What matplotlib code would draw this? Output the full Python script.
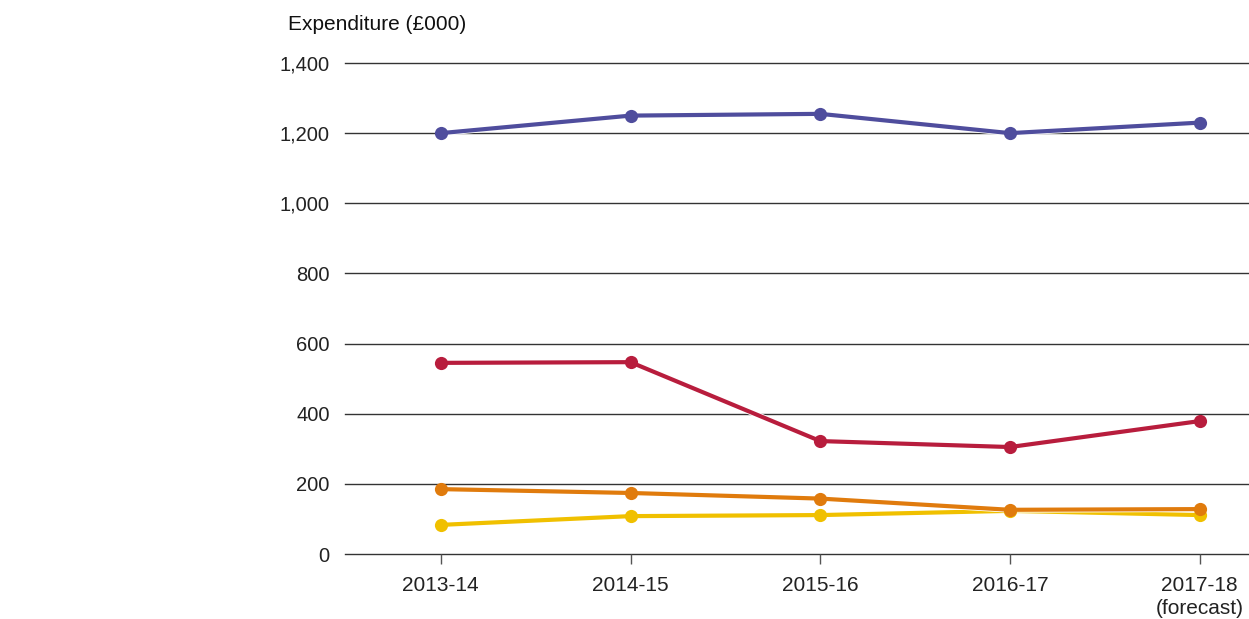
import matplotlib
matplotlib.use("Agg")
import matplotlib.pyplot as plt
import matplotlib.patheffects as pe

plt.rcParams['font.family'] = ['Liberation Sans', 'DejaVu Sans']

categories = ["2013-14", "2014-15", "2015-16", "2016-17", "2017-18\n(forecast)"]
purple = [1200, 1250, 1255, 1200, 1230]
red = [545, 547, 322, 305, 379]
yellow = [83, 108, 111, 123, 111]
orange = [185, 174, 158, 126, 128]
yticks = [0, 200, 400, 600, 800, 1000, 1200, 1400]

fig = plt.figure(figsize=(12.49, 6.19), dpi=100)
ax = fig.add_axes([345/1249, 1-554/619, 1-345/1249, (554-63)/619])

x = list(range(len(categories)))
outline = [pe.Stroke(linewidth=4.2, foreground='white'), pe.Normal()]
for vals, col in [(purple, '#4f4d9d'), (red, '#b81d3d'), (yellow, '#f0c000'), (orange, '#e07b0d')]:
    ax.plot(x, vals, color=col, lw=3, zorder=3, path_effects=outline,
            solid_capstyle='round', clip_on=False)
    ax.plot(x, vals, color=col, lw=0, marker='o', ms=9.5, mew=0, zorder=4, clip_on=False)

ax.set_ylim(0, 1400)
ax.set_xlim(-0.505, 4.26)
ax.set_yticks(yticks)
ax.set_yticklabels([f"{v:,}" for v in yticks])
ax.set_xticks(x)
ax.set_xticklabels(categories, linespacing=1.25)
for v in yticks:
    ax.axhline(v, color='#333333', lw=1, zorder=1, clip_on=False)
for s in ax.spines.values():
    s.set_visible(False)
ax.tick_params(axis='y', length=0, pad=11, labelsize=14.5, labelcolor='#222222')
ax.tick_params(axis='x', length=7, width=1, color='#555555', pad=9, labelsize=15, labelcolor='#222222')

fig.text(288/1249, 1-24/619, "Expenditure (£000)", fontsize=15, color='#111111', va='center', ha='left')

fig.savefig("out.png", dpi=100)
